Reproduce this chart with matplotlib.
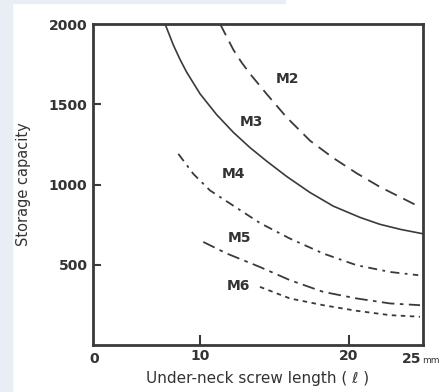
import matplotlib
matplotlib.use("Agg")
import matplotlib.pyplot as plt
from matplotlib.patches import Rectangle

# Datos (longitud en mm, capacidad)
m2_x = [11.35, 12.24, 12.8, 13.36, 14.49, 15.83, 17.4, 18.97, 20.54, 22.1, 24.57]
m2_y = [2000, 1840, 1760, 1690, 1563, 1418, 1273, 1165, 1070, 985, 870]

m3_x = [7.65, 8.2, 8.65, 9.1, 10.0, 11.12, 12.24, 13.36, 14.49, 15.83, 17.4, 18.97, 20.76, 22.1, 23.5, 25.0]
m3_y = [2000, 1870, 1780, 1700, 1565, 1435, 1325, 1230, 1145, 1050, 950, 865, 795, 752, 720, 693]

m4_x = [8.54, 9.55, 10.67, 12.24, 14.03, 16.05, 18.29, 20.54, 22.78, 24.68]
m4_y = [1191, 1066, 963, 868, 760, 663, 570, 497, 455, 435]

m5_x = [10.22, 11.8, 14.03, 16.05, 18.29, 20.54, 22.78, 24.8]
m5_y = [642, 570, 486, 404, 331, 290, 259, 248]

m6_x = [14.03, 16.05, 18.29, 20.54, 22.78, 24.8]
m6_y = [362, 290, 248, 213, 186, 176]

etiquetas = ["M2", "M3", "M4", "M5", "M6"]
etiq_x = [15.9, 13.48, 12.24, 12.64, 12.58]
etiq_y = [1658, 1387, 1066, 666, 366]

y_ticks = [500, 1000, 1500, 2000]
x_ticks = [10, 20]

color = "#3a3a3a"
texto = "#333333"

fig = plt.figure(figsize=(4.42, 3.92), dpi=100)
fig.patches.append(Rectangle((0, 0), 12 / 442, 1, transform=fig.transFigure,
                             color="#e8eef4", zorder=0))
fig.patches.append(Rectangle((0, 389 / 392), 285 / 442, 3 / 392, transform=fig.transFigure,
                             color="#e8eef4", zorder=0))

ax = fig.add_axes([93 / 442, 47 / 392, 330 / 442, 321 / 392])

# Curvas
ax.plot(m2_x, m2_y, color=color, lw=1.3, dashes=(7, 4))
ax.plot(m3_x, m3_y, color=color, lw=1.2)
ax.plot(m4_x, m4_y, color=color, lw=1.3, dashes=(5, 3, 1.5, 3))
ax.plot(m5_x, m5_y, color=color, lw=1.3, dashes=(7, 3, 2, 3))
ax.plot(m6_x, m6_y, color=color, lw=1.3, dashes=(2.5, 2.5))

for nombre, tx, ty in zip(etiquetas, etiq_x, etiq_y):
    ax.text(tx, ty, nombre, fontsize=10, fontweight="bold", color=texto,
            ha="center", va="center")

ax.set_xlim(2.8, 25.0)
ax.set_ylim(0, 2000)

ax.set_yticks(y_ticks)
ax.set_yticklabels([str(v) for v in y_ticks])
ax.set_xticks(x_ticks)
ax.set_xticklabels([str(v) for v in x_ticks])

ax.tick_params(axis="y", direction="in", length=6, width=1.5, color=color,
               labelsize=10, pad=4)
ax.tick_params(axis="x", direction="in", length=7, width=1.5, color=color,
               labelsize=10, pad=3)
for lab in ax.get_xticklabels() + ax.get_yticklabels():
    lab.set_fontweight("bold")
    lab.set_color(texto)

# quitar marca del 2000 (cae sobre el borde)
ax.yaxis.get_major_ticks()[-1].tick1line.set_visible(False)

# "0" en la esquina y "25mm" a la derecha
trans = ax.get_xaxis_transform()
ax.text(2.9, -0.022, "0", transform=trans, ha="center", va="top",
        fontsize=10, fontweight="bold", color=texto)
ax.text(24.9, -0.022, "25", transform=trans, ha="right", va="top",
        fontsize=10, fontweight="bold", color=texto)
ax.text(24.95, -0.035, "mm", transform=trans, ha="left", va="top",
        fontsize=6.5, color=texto)

for s in ax.spines.values():
    s.set_linewidth(2)
    s.set_color(color)

ax.set_ylabel("Storage capacity", fontsize=10.5, color=texto, labelpad=13)
ax.set_xlabel("Under-neck screw length ( ℓ )", fontsize=11, color=texto, labelpad=6)

fig.savefig("out.png", dpi=100)
